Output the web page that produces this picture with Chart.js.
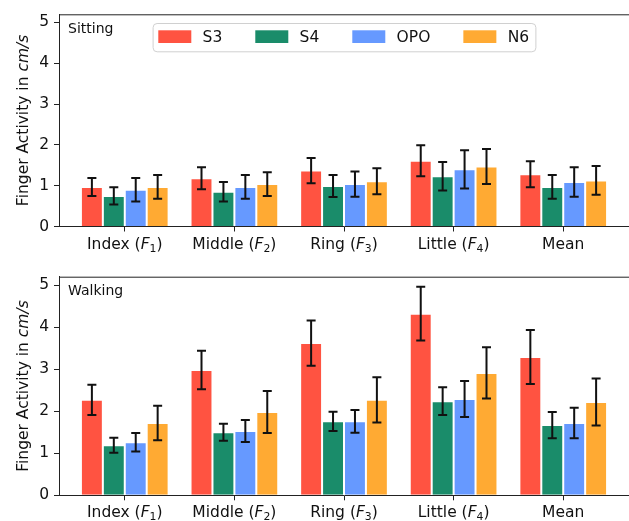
<!DOCTYPE html>
<html><head><meta charset="utf-8">
<script src="https://cdn.jsdelivr.net/npm/chart.js@4.4.1/dist/chart.umd.min.js"></script>
<style>
html,body{margin:0;padding:0;background:#fff;overflow:hidden;width:629px;height:521px}
canvas{position:absolute;left:0}
</style></head><body>
<canvas id="c1" width="629" height="260" style="top:0"></canvas>
<canvas id="c2" width="629" height="261" style="top:260px"></canvas>
<script>
// ---- data ----
const categories = ["Index", "Middle", "Ring", "Little", "Mean"];
const subscripts = ["1", "2", "3", "4", ""];
const seriesNames = ["S3", "S4", "OPO", "N6"];
const seriesColors = ["#ff5341", "#1a8c6a", "#6699ff", "#ffaa33"];
const yTicks = [0, 1, 2, 3, 4, 5];
const panelNames = ["Sitting", "Walking"];

const sittingS3  = [0.97, 1.18, 1.37, 1.61, 1.28];
const sittingS4  = [0.75, 0.85, 0.99, 1.23, 0.97];
const sittingOPO = [0.90, 0.97, 1.04, 1.40, 1.09];
const sittingN6  = [0.97, 1.04, 1.11, 1.47, 1.13];
const sittingS3Err  = [0.22, 0.27, 0.31, 0.38, 0.32];
const sittingS4Err  = [0.21, 0.24, 0.27, 0.35, 0.29];
const sittingOPOErr = [0.29, 0.29, 0.31, 0.47, 0.36];
const sittingN6Err  = [0.29, 0.29, 0.32, 0.43, 0.35];

const walkingS3  = [2.27, 2.98, 3.62, 4.32, 3.29];
const walkingS4  = [1.19, 1.50, 1.76, 2.24, 1.67];
const walkingOPO = [1.26, 1.53, 1.76, 2.29, 1.72];
const walkingN6  = [1.72, 1.98, 2.27, 2.91, 2.22];
const walkingS3Err  = [0.36, 0.46, 0.54, 0.64, 0.64];
const walkingS4Err  = [0.18, 0.20, 0.23, 0.33, 0.31];
const walkingOPOErr = [0.22, 0.26, 0.27, 0.43, 0.36];
const walkingN6Err  = [0.41, 0.50, 0.54, 0.61, 0.56];

// ---- drawing helpers ----
const FAM = '"DejaVu Sans", sans-serif';
const FS = 15.5;

function drawParts(ctx, parts, cx, y) {
  let total = 0;
  parts.forEach(p => { ctx.font = p.font; p.w = ctx.measureText(p.t).width; total += p.w; });
  let x = cx - total / 2;
  ctx.textAlign = 'left';
  parts.forEach(p => { ctx.font = p.font; ctx.fillText(p.t, x, y + (p.dy || 0)); x += p.w; });
}

function makePlugin(errs, panelName, showLegend) {
  return {
    id: 'custom',
    afterDatasetsDraw(chart) {
      const ctx = chart.ctx;
      const ys = chart.scales.y;
      ctx.save();
      ctx.strokeStyle = '#111';
      ctx.lineWidth = 2;
      chart.data.datasets.forEach((ds, di) => {
        const meta = chart.getDatasetMeta(di);
        meta.data.forEach((el, i) => {
          const v = ds.data[i].y, e = errs[di][i];
          const t = ys.getPixelForValue(v + e), b = ys.getPixelForValue(v - e);
          ctx.beginPath();
          ctx.moveTo(el.x, t); ctx.lineTo(el.x, b);
          ctx.moveTo(el.x - 4.5, t); ctx.lineTo(el.x + 4.5, t);
          ctx.moveTo(el.x - 4.5, b); ctx.lineTo(el.x + 4.5, b);
          ctx.stroke();
        });
      });
      ctx.restore();
    },
    afterDraw(chart) {
      const ctx = chart.ctx;
      const a = chart.chartArea;
      const xs = chart.scales.x;
      ctx.save();
      // top spine
      ctx.strokeStyle = '#222'; ctx.lineWidth = 1;
      ctx.beginPath(); ctx.moveTo(a.left, a.top + 0.5); ctx.lineTo(chart.width, a.top + 0.5); ctx.stroke();
      // x category labels
      ctx.fillStyle = '#111';
      ctx.textBaseline = 'alphabetic';
      categories.forEach((c, i) => {
        const x = xs.getPixelForValue(i);
        const parts = subscripts[i]
          ? [{t: c + ' (', font: `${FS}px ${FAM}`},
             {t: 'F', font: `italic ${FS}px ${FAM}`},
             {t: subscripts[i], font: `${FS * 0.7}px ${FAM}`, dy: FS * 0.2},
             {t: ')', font: `${FS}px ${FAM}`}]
          : [{t: c, font: `${FS}px ${FAM}`}];
        drawParts(ctx, parts, x, a.bottom + 22);
      });
      // y title
      ctx.save();
      ctx.translate(27.5, (a.top + a.bottom) / 2);
      ctx.rotate(-Math.PI / 2);
      drawParts(ctx, [{t: 'Finger Activity in ', font: `${FS}px ${FAM}`},
                      {t: 'cm/s', font: `italic ${FS}px ${FAM}`}], 0, 0);
      ctx.restore();
      // panel label
      ctx.font = `14px ${FAM}`;
      ctx.textAlign = 'left';
      ctx.fillText(panelName, a.left + 9, a.top + 18.5);
      // legend
      if (showLegend) {
        const sw = 33, sh = 12.7, gap = 11.3, spacing = 33, padL = 5.7, padR = 6.3;
        ctx.font = `${FS}px ${FAM}`;
        const tw = seriesNames.map(n => ctx.measureText(n).width);
        let content = 0;
        tw.forEach((w, i) => { content += sw + gap + w + (i < tw.length - 1 ? spacing : 0); });
        const boxW = content + padL + padR;
        const boxL = (a.left + a.right) / 2 - boxW / 2;
        const boxT = a.top + 8.7, boxH = 28.3;
        ctx.beginPath();
        if (ctx.roundRect) ctx.roundRect(boxL + 0.5, boxT + 0.5, boxW, boxH, 4);
        else ctx.rect(boxL + 0.5, boxT + 0.5, boxW, boxH);
        ctx.fillStyle = 'rgba(255,255,255,0.8)';
        ctx.fill();
        ctx.strokeStyle = '#d0d0d0'; ctx.lineWidth = 1;
        ctx.stroke();
        let x = boxL + padL;
        const mid = boxT + boxH / 2;
        seriesNames.forEach((n, i) => {
          ctx.fillStyle = seriesColors[i];
          ctx.fillRect(x, mid - sh / 2 - 0.5, sw, sh);
          x += sw + gap;
          ctx.fillStyle = '#111';
          ctx.textBaseline = 'middle';
          ctx.fillText(n, x, mid + 0.5);
          x += tw[i] + spacing;
        });
      }
      ctx.restore();
    }
  };
}

function makeChart(canvas, vals, errs, panelName, topPad, xAxisH, showLegend) {
  return new Chart(canvas, {
    type: 'bar',
    data: {
      datasets: seriesNames.map((name, s) => ({
        label: name,
        data: categories.map((c, i) => ({x: i, y: vals[s][i]})),
        backgroundColor: seriesColors[s],
        borderColor: '#ffffff',
        borderWidth: 1,
        categoryPercentage: 0.8,
        barPercentage: 1.0
      }))
    },
    options: {
      responsive: false,
      animation: false,
      devicePixelRatio: 1,
      layout: {padding: {top: topPad, left: 0, right: 0, bottom: 0}},
      plugins: {legend: {display: false}, tooltip: {enabled: false}},
      scales: {
        x: {
          type: 'linear', min: -0.6, max: 4.6, offset: false,
          afterBuildTicks: s => { s.ticks = categories.map((c, i) => ({value: i})); },
          afterFit: s => { s.height = xAxisH; },
          ticks: {display: false},
          grid: {display: true, drawOnChartArea: false, drawTicks: true, tickLength: 5, color: '#222', offset: false},
          border: {display: true, color: '#222', width: 1}
        },
        y: {
          type: 'linear', min: 0, max: 5.2,
          afterBuildTicks: s => { s.ticks = yTicks.map(v => ({value: v})); },
          afterFit: s => { s.width = 59; },
          ticks: {font: {family: 'DejaVu Sans', size: FS}, color: '#111', padding: 5},
          grid: {drawOnChartArea: false, drawTicks: true, tickLength: 5, color: '#222'},
          border: {display: true, color: '#222', width: 1}
        }
      }
    },
    plugins: [makePlugin(errs, panelName, showLegend)]
  });
}

makeChart(document.getElementById('c1'),
  [sittingS3, sittingS4, sittingOPO, sittingN6],
  [sittingS3Err, sittingS4Err, sittingOPOErr, sittingN6Err],
  panelNames[0], 8, 33.5, true);
makeChart(document.getElementById('c2'),
  [walkingS3, walkingS4, walkingOPO, walkingN6],
  [walkingS3Err, walkingS4Err, walkingOPOErr, walkingN6Err],
  panelNames[1], 16.7, 25.7, false);
</script>
</body></html>
